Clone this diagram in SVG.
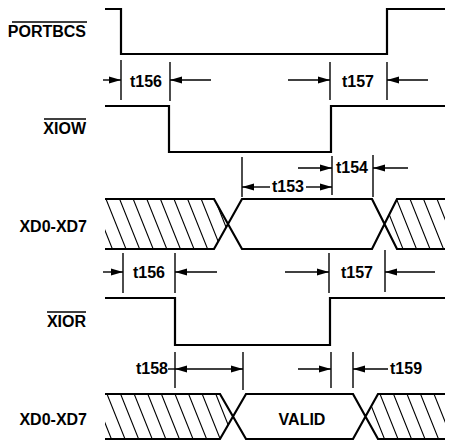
<svg xmlns="http://www.w3.org/2000/svg" width="450" height="441" viewBox="0 0 450 441">
<style>
.lbl{font-family:"Liberation Sans",Arial,sans-serif;font-weight:bold;font-size:16px;fill:#000}
.t{font-family:"Liberation Sans",Arial,sans-serif;font-weight:bold;font-size:16px;fill:#000;text-anchor:middle}
.sig{fill:none;stroke:#000;stroke-width:2.2;stroke-linejoin:miter}
.ov{stroke:#000;stroke-width:1.5}
.tick{stroke:#000;stroke-width:1.4}
.arr{stroke:#000;stroke-width:1.4;fill:none;marker-end:url(#ah)}
.dbl{stroke:#000;stroke-width:1.4;fill:none;marker-start:url(#ah);marker-end:url(#ah)}
.ln{stroke:#000;stroke-width:1.4;fill:none}
.hatch{stroke:#000;stroke-width:1.1;fill:none}
</style>
<defs>
<marker id="ah" markerUnits="userSpaceOnUse" markerWidth="12" markerHeight="8" refX="12" refY="4" orient="auto-start-reverse"><path d="M0,0.5 L12,4 L0,7.5 z" fill="#000"/></marker>
<clipPath id="c1l"><polygon points="105,199 214,199 228,224 214,249 105,249"/></clipPath>
<clipPath id="c1r"><polygon points="384.5,224 397,199 445,199 445,249 397,249"/></clipPath>
<clipPath id="c2l"><polygon points="105,394 220,394 233,416.5 220,439 105,439"/></clipPath>
<clipPath id="c2r"><polygon points="365.5,416.5 378,394 445,394 445,439 378,439"/></clipPath>
</defs>
<rect width="450" height="441" fill="#fff"/>

<g id="portbcs">
<text class="lbl" x="86" y="37" text-anchor="end">PORTBCS</text>
<line class="ov" x1="12" y1="22" x2="87" y2="22"/>
<polyline class="sig" points="105,9 121,9 121,54 387,54 387,9 445,9"/>
</g>

<g id="xiow">
<text class="lbl" x="86" y="134" text-anchor="end">XIOW</text>
<line class="ov" x1="44" y1="119" x2="86" y2="119"/>
<polyline class="sig" points="105,106 169,106 169,152 331,152 331,106 445,106"/>
</g>

<g id="xd-write">
<text class="lbl" x="87" y="232" text-anchor="end">XD0-XD7</text>
<g clip-path="url(#c1l)"><path class="hatch" d="M92.4,199 l20,50 M106,199 l20,50 M119.6,199 l20,50 M133.2,199 l20,50 M146.8,199 l20,50 M160.4,199 l20,50 M174,199 l20,50 M187.6,199 l20,50 M201.2,199 l20,50 M214.8,199 l20,50"/></g>
<g clip-path="url(#c1r)"><path class="hatch" d="M383,199 l20,50 M396.5,199 l20,50 M410,199 l20,50 M423.5,199 l20,50 M437,199 l20,50"/></g>
<path class="sig" d="M105,199 H214 L242,249 H372 L397,199 H445 M105,249 H214 L242,199 H372 L397,249 H445"/>
</g>

<g id="xior">
<text class="lbl" x="86" y="327" text-anchor="end">XIOR</text>
<line class="ov" x1="47" y1="312" x2="86" y2="312"/>
<polyline class="sig" points="105,298 175,298 175,345 330,345 330,298 445,298"/>
</g>

<g id="xd-read">
<text class="lbl" x="87" y="425" text-anchor="end">XD0-XD7</text>
<g clip-path="url(#c2l)"><path class="hatch" d="M93.4,394 l18,45 M107,394 l18,45 M120.6,394 l18,45 M134.2,394 l18,45 M147.8,394 l18,45 M161.4,394 l18,45 M175,394 l18,45 M188.6,394 l18,45 M202.2,394 l18,45 M215.8,394 l18,45"/></g>
<g clip-path="url(#c2r)"><path class="hatch" d="M366.5,394 l18,45 M380,394 l18,45 M393.5,394 l18,45 M407,394 l18,45 M420.5,394 l18,45 M434,394 l18,45"/></g>
<path class="sig" d="M105,394 H220 L246,439 H353 L378,394 H445 M105,439 H220 L246,394 H353 L378,439 H445"/>
<text class="t" x="302" y="425">VALID</text>
</g>

<g id="timing-labels">
<text class="t" x="146" y="87">t156</text>
<text class="t" x="358" y="87">t157</text>
<text class="t" x="288" y="192">t153</text>
<text class="t" x="352" y="173">t154</text>
<text class="t" x="149" y="278">t156</text>
<text class="t" x="357" y="278">t157</text>
<text class="t" x="152" y="374">t158</text>
<text class="lbl" x="390" y="374">t159</text>
</g>

<g id="connectors">
<line class="tick" x1="121" y1="60" x2="121" y2="100"/>
<line class="tick" x1="170" y1="62" x2="170" y2="101"/>
<line class="arr" x1="103" y1="80" x2="121" y2="80"/>
<line class="arr" x1="211" y1="80" x2="170" y2="80"/>
<line class="tick" x1="330" y1="62" x2="330" y2="100"/>
<line class="tick" x1="387" y1="62" x2="387" y2="100"/>
<line class="arr" x1="288" y1="80" x2="330" y2="80"/>
<line class="arr" x1="428" y1="80" x2="387" y2="80"/>

<line class="tick" x1="242" y1="157" x2="242" y2="197"/>
<line class="tick" x1="332" y1="156" x2="332" y2="195"/>
<line class="tick" x1="373" y1="155" x2="373" y2="197"/>
<line class="arr" x1="270" y1="187" x2="242" y2="187"/>
<line class="arr" x1="306" y1="187" x2="332" y2="187"/>
<line class="arr" x1="298" y1="168" x2="332" y2="168"/>
<line class="arr" x1="408" y1="168" x2="373" y2="168"/>

<line class="tick" x1="123" y1="253" x2="123" y2="293"/>
<line class="tick" x1="175" y1="253" x2="175" y2="293"/>
<line class="arr" x1="103" y1="272" x2="123" y2="272"/>
<line class="arr" x1="217" y1="272" x2="175" y2="272"/>
<line class="tick" x1="329" y1="253" x2="329" y2="293"/>
<line class="tick" x1="385" y1="250" x2="385" y2="292"/>
<line class="arr" x1="285" y1="272" x2="329" y2="272"/>
<line class="arr" x1="435" y1="272" x2="385" y2="272"/>

<line class="tick" x1="175" y1="352" x2="175" y2="388"/>
<line class="tick" x1="243" y1="352" x2="243" y2="390"/>
<line class="ln" x1="168" y1="369" x2="175" y2="369"/>
<line class="dbl" x1="175" y1="369" x2="243" y2="369"/>
<line class="tick" x1="331" y1="352" x2="331" y2="388"/>
<line class="tick" x1="353" y1="352" x2="353" y2="388"/>
<line class="arr" x1="298" y1="369" x2="331" y2="369"/>
<line class="arr" x1="388" y1="369" x2="353" y2="369"/>
</g>
</svg>
